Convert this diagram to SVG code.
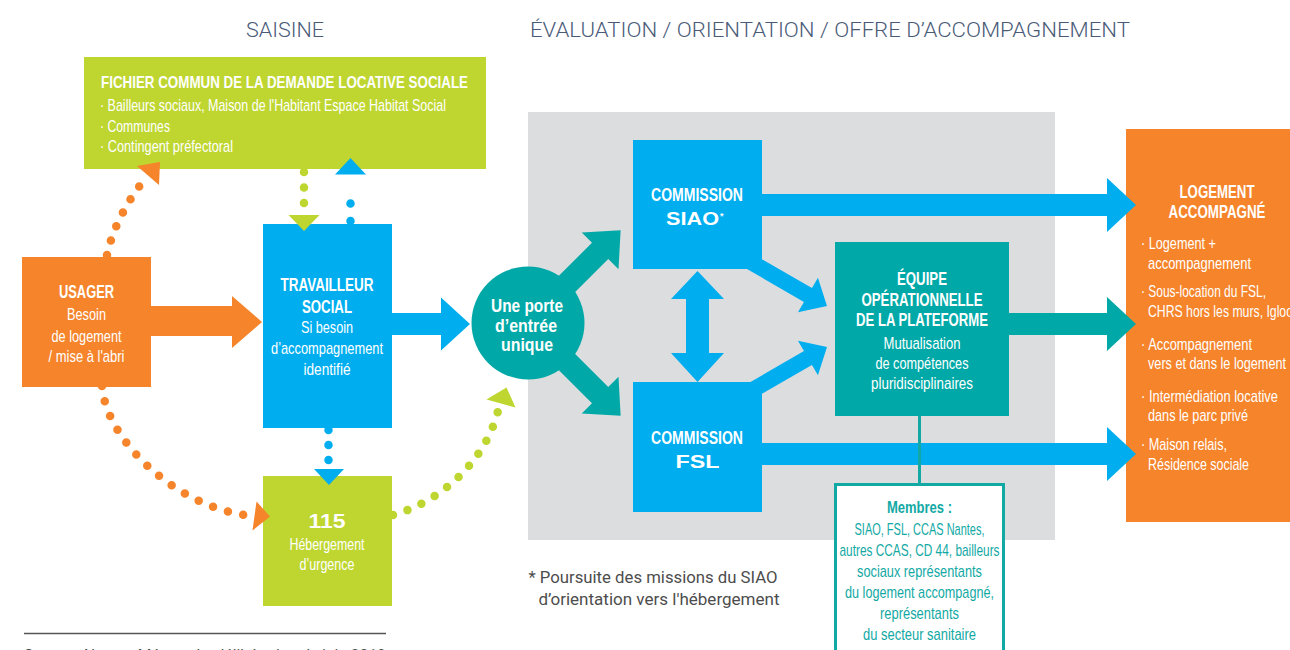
<svg xmlns="http://www.w3.org/2000/svg" width="1290" height="650" viewBox="0 0 1290 650">
<style>
.n{font-family:"Liberation Sans Narrow","Liberation Sans",Arial,sans-serif;fill:#fff}
.b{font-weight:bold;font-size:18px}
.r{font-size:17px}
.w{font-family:"Liberation Sans",Arial,sans-serif;font-weight:bold;fill:#fff}
.m{text-anchor:middle}
.hd{font-family:Roboto,"Liberation Sans",sans-serif;font-weight:300;font-size:21px;fill:#4a5b78}
.fn{font-family:Roboto,"Liberation Sans",sans-serif;font-size:16px;fill:#4d4d4d}
.tm{fill:#12a9a5}
.dot{fill:none;stroke-width:8.5;stroke-linecap:round}
</style>
<rect width="1290" height="650" fill="#fff"/>
<text class="hd m" x="285" y="37" textLength="78" lengthAdjust="spacingAndGlyphs">SAISINE</text>
<text class="hd" x="530" y="37" textLength="600" lengthAdjust="spacingAndGlyphs">ÉVALUATION / ORIENTATION / OFFRE D’ACCOMPAGNEMENT</text>
<rect id="panel" x="528" y="112" width="527" height="428" fill="#dcdddf"/>

<g id="fichier">
<rect x="84" y="57" width="402" height="112" fill="#bed62f"/>
<text class="n b" x="101" y="88" textLength="367" lengthAdjust="spacingAndGlyphs" style="font-size:17px">FICHIER COMMUN DE LA DEMANDE LOCATIVE SOCIALE</text>
<text class="n r" x="100" y="111" textLength="346" lengthAdjust="spacingAndGlyphs">· Bailleurs sociaux, Maison de l'Habitant Espace Habitat Social</text>
<text class="n r" x="100" y="132" textLength="70" lengthAdjust="spacingAndGlyphs">· Communes</text>
<text class="n r" x="100" y="152" textLength="133" lengthAdjust="spacingAndGlyphs">· Contingent préfectoral</text>
</g>

<g id="usager">
<rect x="22" y="257" width="129" height="130" fill="#f5842b"/>
<text class="n b m" x="86.5" y="298" textLength="55" lengthAdjust="spacingAndGlyphs" style="font-size:19px">USAGER</text>
<text class="n r m" x="86.5" y="320" textLength="39" lengthAdjust="spacingAndGlyphs">Besoin</text>
<text class="n r m" x="86.5" y="341.5" textLength="70" lengthAdjust="spacingAndGlyphs">de logement</text>
<text class="n r m" x="86.5" y="362" textLength="76" lengthAdjust="spacingAndGlyphs">/ mise à l'abri</text>
</g>

<g id="travailleur">
<rect x="263" y="224" width="129" height="204" fill="#00aeef"/>
<text class="n b m" x="327" y="291" textLength="93" lengthAdjust="spacingAndGlyphs">TRAVAILLEUR</text>
<text class="n b m" x="327" y="312.5" textLength="50" lengthAdjust="spacingAndGlyphs">SOCIAL</text>
<text class="n r m" x="327" y="333" textLength="52" lengthAdjust="spacingAndGlyphs">Si besoin</text>
<text class="n r m" x="327" y="354" textLength="112" lengthAdjust="spacingAndGlyphs">d’accompagnement</text>
<text class="n r m" x="327" y="375" textLength="47" lengthAdjust="spacingAndGlyphs">identifié</text>
</g>

<g id="urgence115">
<rect x="263" y="476" width="129" height="130" fill="#bed62f"/>
<text class="w m" x="327" y="527.5" font-size="20" textLength="37" lengthAdjust="spacingAndGlyphs">115</text>
<text class="n r m" x="327" y="550" textLength="75" lengthAdjust="spacingAndGlyphs">Hébergement</text>
<text class="n r m" x="327" y="570" textLength="55" lengthAdjust="spacingAndGlyphs">d’urgence</text>
</g>

<g id="porte">
<circle cx="528" cy="323" r="56.5" fill="#00a9a7"/>
<text class="n b m" x="527" y="311.5" textLength="72" lengthAdjust="spacingAndGlyphs" style="font-size:19px">Une porte</text>
<text class="n b m" x="526" y="331.5" textLength="62" lengthAdjust="spacingAndGlyphs" style="font-size:19px">d’entrée</text>
<text class="n b m" x="527" y="351" textLength="52" lengthAdjust="spacingAndGlyphs" style="font-size:19px">unique</text>
</g>

<g id="siao">
<rect x="633" y="140" width="129" height="129" fill="#00aeef"/>
<text class="n b m" x="697" y="201" textLength="92" lengthAdjust="spacingAndGlyphs">COMMISSION</text>
<text class="w m" x="692.5" y="225" font-size="19" textLength="53" lengthAdjust="spacingAndGlyphs">SIAO</text>
<text class="w" x="720" y="219" font-size="9">*</text>
</g>

<g id="fsl">
<rect x="633" y="382" width="129" height="130" fill="#00aeef"/>
<text class="n b m" x="697" y="443.5" textLength="92" lengthAdjust="spacingAndGlyphs">COMMISSION</text>
<text class="w m" x="697.5" y="467.5" font-size="19" textLength="44" lengthAdjust="spacingAndGlyphs">FSL</text>
</g>

<g id="equipe">
<rect x="835" y="242" width="174" height="174" fill="#00a9a7"/>
<text class="n b m" x="922" y="285" textLength="50" lengthAdjust="spacingAndGlyphs">ÉQUIPE</text>
<text class="n b m" x="922" y="305.5" textLength="121" lengthAdjust="spacingAndGlyphs">OPÉRATIONNELLE</text>
<text class="n b m" x="922" y="326" textLength="132" lengthAdjust="spacingAndGlyphs">DE LA PLATEFORME</text>
<text class="n r m" x="922" y="348.5" textLength="77" lengthAdjust="spacingAndGlyphs">Mutualisation</text>
<text class="n r m" x="922" y="369" textLength="93" lengthAdjust="spacingAndGlyphs">de compétences</text>
<text class="n r m" x="922" y="389" textLength="102" lengthAdjust="spacingAndGlyphs">pluridisciplinaires</text>
</g>

<g id="logement">
<rect x="1126" y="129" width="164" height="393" fill="#f5842b"/>
<text class="n b m" x="1217" y="198" textLength="75" lengthAdjust="spacingAndGlyphs">LOGEMENT</text>
<text class="n b m" x="1217" y="218" textLength="97" lengthAdjust="spacingAndGlyphs">ACCOMPAGNÉ</text>
<text class="n r" x="1141" y="249" textLength="75" lengthAdjust="spacingAndGlyphs">· Logement +</text>
<text class="n r" x="1148" y="269" textLength="103" lengthAdjust="spacingAndGlyphs">accompagnement</text>
<text class="n r" x="1141" y="297" textLength="125" lengthAdjust="spacingAndGlyphs">· Sous-location du FSL,</text>
<text class="n r" x="1148" y="317" textLength="145" lengthAdjust="spacingAndGlyphs">CHRS hors les murs, Igloo</text>
<text class="n r" x="1141" y="350" textLength="111" lengthAdjust="spacingAndGlyphs">· Accompagnement</text>
<text class="n r" x="1148" y="369" textLength="138" lengthAdjust="spacingAndGlyphs">vers et dans le logement</text>
<text class="n r" x="1141" y="402" textLength="137" lengthAdjust="spacingAndGlyphs">· Intermédiation locative</text>
<text class="n r" x="1148" y="420.5" textLength="100" lengthAdjust="spacingAndGlyphs">dans le parc privé</text>
<text class="n r" x="1141" y="450" textLength="86" lengthAdjust="spacingAndGlyphs">· Maison relais,</text>
<text class="n r" x="1148" y="470" textLength="101" lengthAdjust="spacingAndGlyphs">Résidence sociale</text>
</g>

<g id="membres">
<rect x="835.5" y="484.5" width="168" height="200" fill="#fff" stroke="#12a9a5" stroke-width="3"/>
<text class="n b m tm" x="919.5" y="513" textLength="65" lengthAdjust="spacingAndGlyphs" style="font-size:17px">Membres :</text>
<text class="n r m tm" x="919.5" y="534.5" textLength="130" lengthAdjust="spacingAndGlyphs">SIAO, FSL, CCAS Nantes,</text>
<text class="n r m tm" x="919.5" y="556" textLength="160" lengthAdjust="spacingAndGlyphs">autres CCAS, CD 44, bailleurs</text>
<text class="n r m tm" x="919.5" y="577" textLength="125" lengthAdjust="spacingAndGlyphs">sociaux représentants</text>
<text class="n r m tm" x="919.5" y="597.5" textLength="149" lengthAdjust="spacingAndGlyphs">du logement accompagné,</text>
<text class="n r m tm" x="919.5" y="618.5" textLength="79" lengthAdjust="spacingAndGlyphs">représentants</text>
<text class="n r m tm" x="919.5" y="640" textLength="113" lengthAdjust="spacingAndGlyphs">du secteur sanitaire</text>
</g>

<g id="connectors">
<polygon fill="#f5842b" points="150,306 232,306 232,296 262,322 232,348 232,336 150,336"/>
<polygon fill="#00aeef" points="392,313 441,313 441,297.5 470,324 441,350.5 441,335 392,335"/>
<polygon fill="#00a9a7" transform="translate(528,323) rotate(-45)" points="52,-11.5 102,-11.5 102,-26 131,0 102,26 102,11.5 52,11.5"/>
<polygon fill="#00a9a7" transform="translate(528,323) rotate(45)" points="52,-11.5 102,-11.5 102,-26 131,0 102,26 102,11.5 52,11.5"/>
<polygon fill="#00aeef" points="697.5,271 724,299 709,299 709,353 724,353 697.5,382 671,353 686,353 686,299 671,299"/>
<polygon fill="#00aeef" transform="translate(827,306) rotate(30)" points="0,0 -22,-20 -22,-8 -110,-8 -110,8 -22,8 -22,20"/>
<polygon fill="#00aeef" transform="translate(827,347) rotate(-30)" points="0,0 -22,-20 -22,-8 -110,-8 -110,8 -22,8 -22,20"/>
<polygon fill="#00aeef" points="762,194 1107,194 1107,178 1136,205 1107,232 1107,216 762,216"/>
<polygon fill="#00a9a7" points="1008,313 1107,313 1107,297 1136,324 1107,351 1107,335 1008,335"/>
<polygon fill="#00aeef" points="762,443 1107,443 1107,427 1136,454 1107,481 1107,465 762,465"/>
<line x1="919.5" y1="416" x2="919.5" y2="484" stroke="#12a9a5" stroke-width="3"/>
<path class="dot" stroke="#bed62f" stroke-dasharray="0 15.5" d="M304,172 V204"/>
<polygon fill="#bed62f" points="288.5,215 319.5,215 304,231"/>
<path class="dot" stroke="#00aeef" stroke-dasharray="0 17.5" d="M350.5,221 V186"/>
<polygon fill="#00aeef" points="335,174.5 366,174.5 350.5,158"/>
<path class="dot" stroke="#00aeef" stroke-dasharray="0 15" d="M328.5,430 V461"/>
<polygon fill="#00aeef" points="314,469 344,469 329,485"/>
<path class="dot" stroke="#f5842b" stroke-dasharray="0 15.2" d="M107,255 C111,234 125,204 142,183"/>
<polygon fill="#f5842b" points="137,166 160,162 159,185"/>
<path class="dot" stroke="#f5842b" stroke-dasharray="0 15.6" d="M102,386 C106,440 175,505 245,515"/>
<polygon fill="#f5842b" points="256.5,501.5 270,516.5 252.5,530.5"/>
<path class="dot" stroke="#bed62f" stroke-dasharray="0 15.3" d="M393,515 C440,502 485,462 498,411"/>
<polygon fill="#bed62f" points="486.5,399.5 506.5,387.5 515.5,407.5"/>
</g>

<text class="fn" x="528.5" y="583" textLength="249" lengthAdjust="spacingAndGlyphs">* Poursuite des missions du SIAO</text>
<text class="fn" x="538.5" y="605" textLength="241" lengthAdjust="spacingAndGlyphs">d’orientation vers l'hébergement</text>
<line x1="24" y1="633.5" x2="386" y2="633.5" stroke="#555" stroke-width="1.5"/>
<text class="fn" x="24" y="661" textLength="362" lengthAdjust="spacingAndGlyphs">Source : Nantes Métropole, délibération de juin 2019</text>
</svg>
